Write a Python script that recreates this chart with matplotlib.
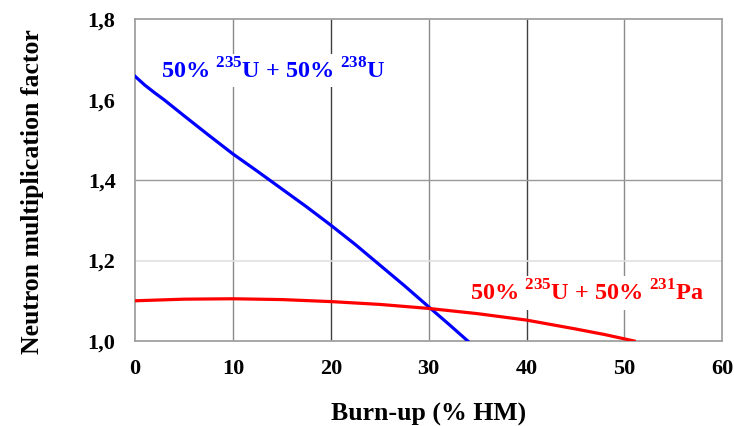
import matplotlib
matplotlib.use('Agg')
import matplotlib.pyplot as plt

# 데이터
burnup_u238 = [0, 1, 2, 3, 5, 7.5, 10, 12.5, 15, 17.5, 20, 22.5, 25, 27.5, 30, 32, 34]
k_u238 = [1.658, 1.636, 1.617, 1.599, 1.560, 1.512, 1.465, 1.422, 1.378, 1.334, 1.288, 1.240, 1.189, 1.138, 1.085, 1.043, 1.000]

burnup_pa231 = [0, 5, 10, 15, 20, 25, 30, 35, 40, 45, 48, 51]
k_pa231 = [1.100, 1.104, 1.105, 1.103, 1.098, 1.091, 1.081, 1.068, 1.052, 1.030, 1.016, 1.000]

x_ticks = [0, 10, 20, 30, 40, 50, 60]
y_ticks = [1.0, 1.2, 1.4, 1.6, 1.8]
y_tick_labels = ['1,0', '1,2', '1,4', '1,6', '1,8']

plt.rcParams['font.family'] = 'Liberation Serif'
plt.rcParams['font.weight'] = 'bold'
plt.rcParams['mathtext.fontset'] = 'custom'
plt.rcParams['mathtext.rm'] = 'Liberation Serif:bold'
plt.rcParams['mathtext.bf'] = 'Liberation Serif:bold'

fig = plt.figure(figsize=(7.34, 4.26), dpi=100)
ax = fig.add_axes([0.184, 0.1995, 0.800, 0.7555])

# 그리드 (원본처럼 밝기가 번갈아 다름)
for xv in [10, 30, 50]:
    ax.axvline(xv, color='#8a8a8a', lw=1.0, zorder=0)
for xv in [20, 40]:
    ax.axvline(xv, color='#404040', lw=1.0, zorder=0)
ax.axhline(1.2, color='#e0e0e0', lw=1.2, zorder=0)
ax.axhline(1.4, color='#999999', lw=1.0, zorder=0)

ax.plot(burnup_u238, k_u238, color='#0000ff', lw=2.3, zorder=3)
ax.plot(burnup_pa231, k_pa231, color='#ff0000', lw=2.3, zorder=3)

ax.text(2.7, 1.672, r'50% $^{235}$U + 50% $^{238}$U', color='#0000ff', fontsize=17.5,
        fontweight='bold', va='center', ha='left', zorder=2,
        bbox=dict(facecolor='white', edgecolor='none', pad=3))
ax.text(34.2, 1.119, r'50% $^{235}$U + 50% $^{231}$Pa', color='#ff0000', fontsize=17.5,
        fontweight='bold', va='center', ha='left', zorder=2,
        bbox=dict(facecolor='white', edgecolor='none', pad=3))

ax.set_xlim(0, 60)
ax.set_ylim(1.0, 1.8)
ax.set_xticks(x_ticks)
ax.set_yticks(y_ticks)
ax.set_yticklabels(y_tick_labels)
ax.tick_params(length=0, labelsize=16)
ax.tick_params(axis='x', pad=13)
ax.tick_params(axis='y', pad=14)
for s in ax.spines.values():
    s.set_color('#a0a0a0')
    s.set_linewidth(1.3)

ax.set_xlabel('Burn-up (% HM)', fontsize=18.5, fontweight='bold', labelpad=17)
ax.set_ylabel('Neutron multiplication factor', fontsize=18.5, fontweight='bold')
ax.yaxis.set_label_coords(-0.155, 0.463)

plt.savefig('out.png', dpi=100)
plt.close()
